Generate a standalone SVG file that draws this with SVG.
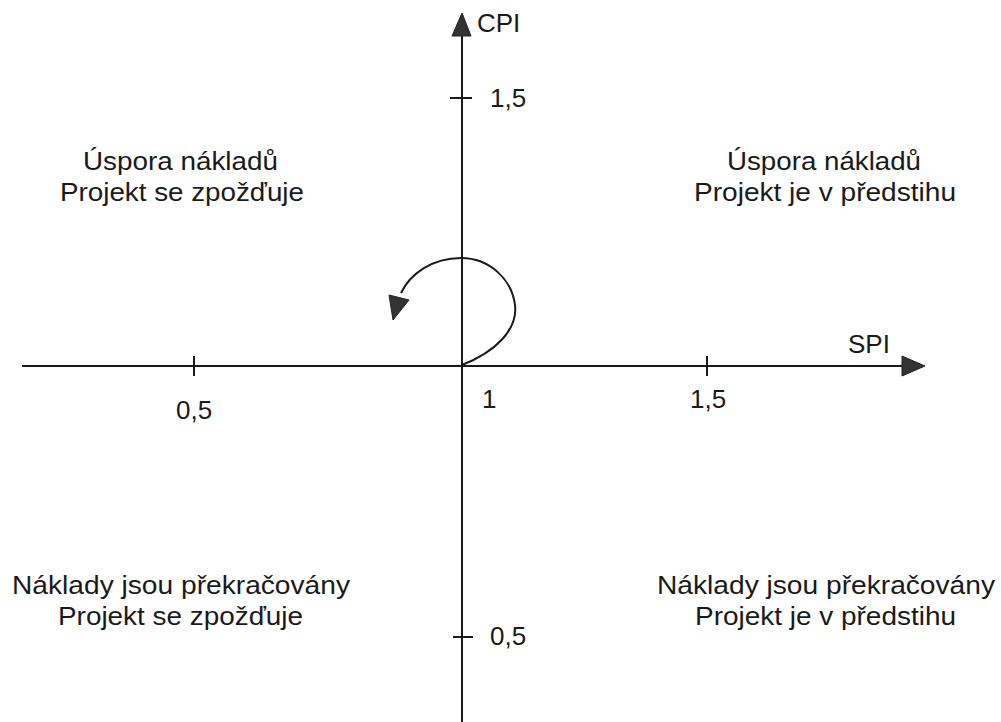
<svg xmlns="http://www.w3.org/2000/svg" width="1001" height="722" viewBox="0 0 1001 722">
<style>
text{font-family:"Liberation Sans",Arial,sans-serif;font-size:26px;fill:#1a1a1a}
.ax{stroke:#1a1a1a;stroke-width:2;fill:none}
.ah{fill:#333;stroke:#222;stroke-width:1}
</style>
<rect width="1001" height="722" fill="#fff"/>
<g id="connectors">
<line class="ax" x1="462" y1="722" x2="462" y2="30"/>
<polygon class="ah" points="462,13 452,36 471,36"/>
<line class="ax" x1="22" y1="366" x2="905" y2="366"/>
<polygon class="ah" points="925,366 902,356 902,376"/>
<line class="ax" x1="450" y1="98" x2="472" y2="98"/>
<line class="ax" x1="453" y1="637" x2="473" y2="637"/>
<line class="ax" x1="194" y1="356" x2="194" y2="376"/>
<line class="ax" x1="707" y1="356" x2="707" y2="376"/>
<path class="ax" d="M462,365 C495,352 518,330 515,305 C512,280 490,258 461,258 C432,258 410,274 401,293"/>
<polygon class="ah" points="389,295 409,300 393,320"/>
</g>
<g id="axis-labels">
<text x="477" y="32">CPI</text>
<text x="848" y="353">SPI</text>
<text x="490" y="107">1,5</text>
<text x="490" y="645">0,5</text>
<text x="176" y="419">0,5</text>
<text x="482" y="408">1</text>
<text x="690" y="408">1,5</text>
</g>
<g id="q-top-left">
<text x="83" y="170" textLength="195" lengthAdjust="spacingAndGlyphs">Úspora nákladů</text>
<text x="60" y="201" textLength="244" lengthAdjust="spacingAndGlyphs">Projekt se zpožďuje</text>
</g>
<g id="q-top-right">
<text x="727" y="170" textLength="194" lengthAdjust="spacingAndGlyphs">Úspora nákladů</text>
<text x="694" y="201" textLength="262" lengthAdjust="spacingAndGlyphs">Projekt je v předstihu</text>
</g>
<g id="q-bottom-left">
<text x="12" y="594" textLength="338" lengthAdjust="spacingAndGlyphs">Náklady jsou překračovány</text>
<text x="58" y="625" textLength="245" lengthAdjust="spacingAndGlyphs">Projekt se zpožďuje</text>
</g>
<g id="q-bottom-right">
<text x="657" y="594" textLength="338" lengthAdjust="spacingAndGlyphs">Náklady jsou překračovány</text>
<text x="695" y="625" textLength="261" lengthAdjust="spacingAndGlyphs">Projekt je v předstihu</text>
</g>
</svg>
